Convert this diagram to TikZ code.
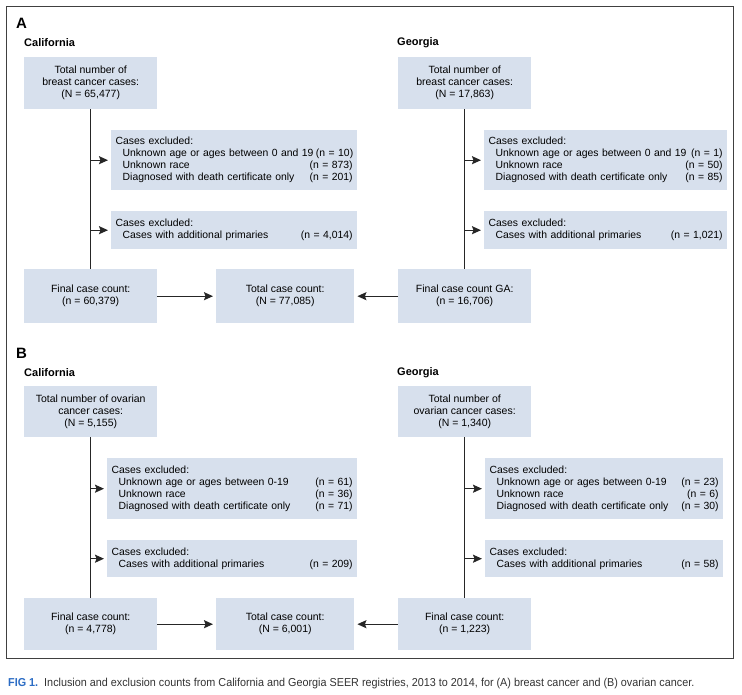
\documentclass[tikz,border=0pt]{standalone}
\usepackage{fontspec}
\setmainfont{Liberation Sans}
\newfontfamily\capfont[FakeStretch=0.94]{Liberation Sans}
\usetikzlibrary{arrows.meta}
\definecolor{boxblue}{HTML}{D7E0ED}
\definecolor{figblue}{HTML}{2B6CC4}
\definecolor{capgray}{HTML}{333333}
\tikzset{
  count box/.style args={#1 by #2}{
    anchor=north west,fill=boxblue,inner sep=0pt,align=center,
    minimum width=#1,minimum height=#2,
    font=\fontsize{10.5}{12}\selectfont}, % flow boxes
  excl box/.style args={#1 by #2}{
    anchor=north west,fill=boxblue,inner xsep=4.5pt,inner ysep=0pt,
    text width=#1,minimum height=#2,align=left,
    font=\fontsize{10.4}{12}\selectfont}, % exclusion boxes
  region label/.style={anchor=west,inner sep=0pt,font=\fontsize{11}{13}\selectfont\bfseries},
  panel label/.style={anchor=west,inner sep=0pt,font=\fontsize{15}{16}\selectfont\bfseries},
  flow line/.style={line width=1.3pt,black!85},
  flow arrow/.style={line width=1.3pt,black!85,-{Stealth[length=9pt,width=8pt,inset=1.5pt]},shorten >=3pt},
}
\newcommand{\exitem}[2]{\makebox[\hsize][s]{\hspace*{7pt}#1\hfill\hspace{2.5pt}(n = #2)}}

\begin{document}
\begin{tikzpicture}[x=1pt,y=-1pt]
  \useasboundingbox (0,0) rectangle (742,695);
  \draw[line width=0.9pt,black!75] (6,6) rectangle (733,658);

  % ---------- A ----------
  \node[panel label] (labA) at (16,23) {A};
  \node[region label] (caA) at (24,43) {California};
  \node[region label] (gaA) at (397,43) {Georgia};

  \node[count box=133pt by 52pt] (caTotA) at (24,57)
    {Total number of\\breast cancer cases:\\(N = 65,477)};
  \node[excl box=237pt by 60pt] (caExA) at (111,130)
    {Cases excluded:\\\exitem{Unknown age or ages between 0 and 19}{10}\\
     \exitem{Unknown race}{873}\\\exitem{Diagnosed with death certificate only}{201}};
  \node[excl box=237pt by 38pt] (caPrA) at (111,211)
    {Cases excluded:\\\exitem{Cases with additional primaries}{4,014}};
  \node[count box=133pt by 54pt] (caFinA) at (24,269)
    {Final case count:\\(n = 60,379)};

  \node[count box=138pt by 54pt] (totA) at (216,269)
    {Total case count:\\(N = 77,085)};

  \node[count box=133pt by 52pt] (gaTotA) at (398,57)
    {Total number of\\breast cancer cases:\\(N = 17,863)};
  \node[excl box=234pt by 60pt] (gaExA) at (484,130)
    {Cases excluded:\\\exitem{Unknown age or ages between 0 and 19}{1}\\
     \exitem{Unknown race}{50}\\\exitem{Diagnosed with death certificate only}{85}};
  \node[excl box=234pt by 38pt] (gaPrA) at (484,211)
    {Cases excluded:\\\exitem{Cases with additional primaries}{1,021}};
  \node[count box=133pt by 54pt] (gaFinA) at (398,269)
    {Final case count GA:\\(n = 16,706)};

  \draw[flow line] (caTotA) -- (caFinA);
  \draw[flow arrow] (caTotA.south |- caExA.west) -- (caExA.west);
  \draw[flow arrow] (caTotA.south |- caPrA.west) -- (caPrA.west);
  \draw[flow line] (gaTotA) -- (gaFinA);
  \draw[flow arrow] (gaTotA.south |- gaExA.west) -- (gaExA.west);
  \draw[flow arrow] (gaTotA.south |- gaPrA.west) -- (gaPrA.west);
  \draw[flow arrow] (caFinA) -- (totA);
  \draw[flow arrow] (gaFinA) -- (totA);

  % ---------- B ----------
  \node[panel label] (labB) at (16,353) {B};
  \node[region label] (caB) at (24,373) {California};
  \node[region label] (gaB) at (397,373) {Georgia};

  \node[count box=133pt by 51pt] (caTotB) at (24,386)
    {Total number of ovarian\\cancer cases:\\(N = 5,155)};
  \node[excl box=241pt by 61pt] (caExB) at (107,458)
    {Cases excluded:\\\exitem{Unknown age or ages between 0-19}{61}\\
     \exitem{Unknown race}{36}\\\exitem{Diagnosed with death certificate only}{71}};
  \node[excl box=241pt by 37pt] (caPrB) at (107,540)
    {Cases excluded:\\\exitem{Cases with additional primaries}{209}};
  \node[count box=133pt by 52pt] (caFinB) at (24,598)
    {Final case count:\\(n = 4,778)};

  \node[count box=138pt by 52pt] (totB) at (216,598)
    {Total case count:\\(N = 6,001)};

  \node[count box=133pt by 51pt] (gaTotB) at (398,386)
    {Total number of\\ovarian cancer cases:\\(N = 1,340)};
  \node[excl box=229pt by 61pt] (gaExB) at (485,458)
    {Cases excluded:\\\exitem{Unknown age or ages between 0-19}{23}\\
     \exitem{Unknown race}{6}\\\exitem{Diagnosed with death certificate only}{30}};
  \node[excl box=229pt by 37pt] (gaPrB) at (485,540)
    {Cases excluded:\\\exitem{Cases with additional primaries}{58}};
  \node[count box=133pt by 52pt] (gaFinB) at (398,598)
    {Final case count:\\(n = 1,223)};

  \draw[flow line] (caTotB) -- (caFinB);
  \draw[flow arrow] (caTotB.south |- caExB.west) -- (caExB.west);
  \draw[flow arrow] (caTotB.south |- caPrB.west) -- (caPrB.west);
  \draw[flow line] (gaTotB) -- (gaFinB);
  \draw[flow arrow] (gaTotB.south |- gaExB.west) -- (gaExB.west);
  \draw[flow arrow] (gaTotB.south |- gaPrB.west) -- (gaPrB.west);
  \draw[flow arrow] (caFinB) -- (totB);
  \draw[flow arrow] (gaFinB) -- (totB);

  % caption
  \node[anchor=west,inner sep=0pt,text=capgray,font=\capfont\fontsize{11.5}{13}\selectfont] (cap) at (8,684)
    {\textcolor{figblue}{\bfseries FIG 1.}\ \ Inclusion and exclusion counts from California and Georgia SEER registries, 2013 to 2014, for (A) breast cancer and (B) ovarian cancer.};
\end{tikzpicture}
\end{document}
